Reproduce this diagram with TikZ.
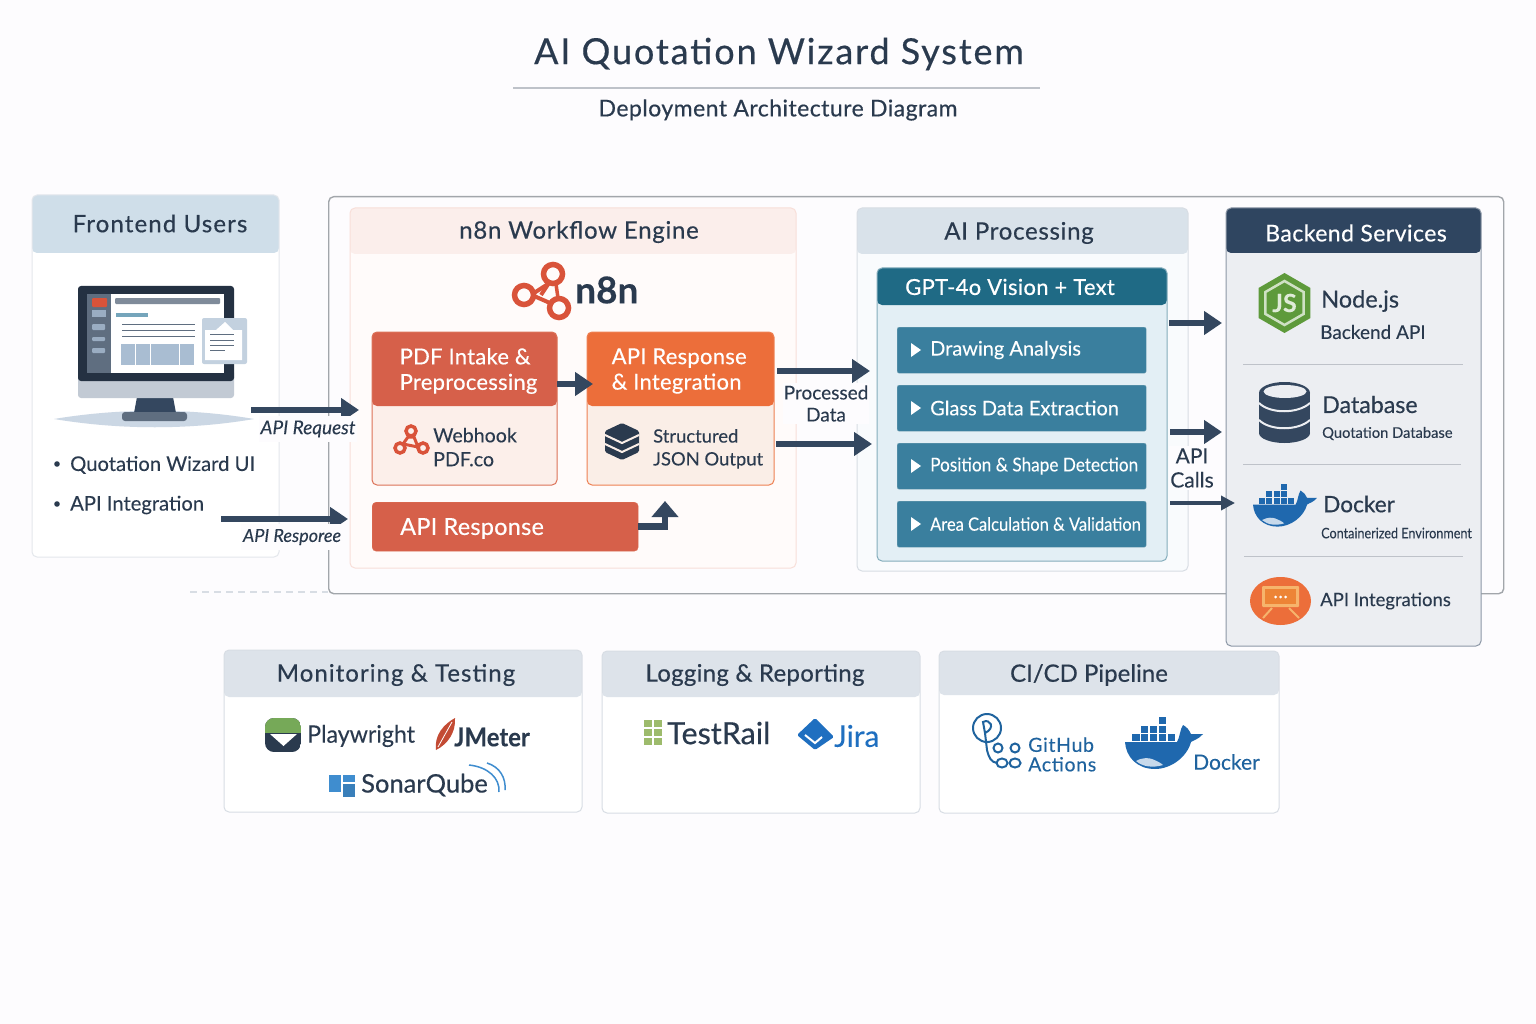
\documentclass[tikz,border=0pt]{standalone}
\usepackage{fontspec}
\setmainfont{Lato}[FakeBold=0.1]
\newcommand{\medweight}{\addfontfeature{FakeBold=0.45}}
\usetikzlibrary{positioning, shapes.geometric, arrows.meta}

\definecolor{bgcol}{HTML}{FDFCFE}
\definecolor{ink}{HTML}{2A3A4E}
\definecolor{navy}{HTML}{34475F}
\definecolor{rust}{HTML}{D6604A}
\definecolor{rustedge}{HTML}{DC7258}
\definecolor{rustpale}{HTML}{FCEFEA}
\definecolor{flame}{HTML}{EC6E3A}
\definecolor{flameedge}{HTML}{EE8052}
\definecolor{flamepale}{HTML}{FAEEE7}
\definecolor{teal}{HTML}{1F6A85}
\definecolor{tealbar}{HTML}{3A7F9E}
\definecolor{tealpale}{HTML}{E3EFF5}
\definecolor{whaleblue}{HTML}{1F68AE}
\definecolor{hdrgrey}{HTML}{DDE3EA}
\definecolor{edgegrey}{HTML}{D8DDE4}
\definecolor{skyhdr}{HTML}{CFDEE9}
\definecolor{peachhdr}{HTML}{FBEEEB}
\definecolor{peachedge}{HTML}{F8DFD9}
\definecolor{peachbody}{HTML}{FFFBFA}
\definecolor{aihdr}{HTML}{D9E2EA}
\definecolor{aibody}{HTML}{F9FBFD}
\definecolor{backhdr}{HTML}{2F4560}
\definecolor{backbody}{HTML}{ECEEF2}
\definecolor{backedge}{HTML}{8C97A6}
\definecolor{slate}{HTML}{5F6E80}
\definecolor{screenblue}{HTML}{A9BDD2}
\definecolor{leafgreen}{HTML}{5E9A3B}
\definecolor{sprout}{HTML}{9DBB6C}
\definecolor{jirablue}{HTML}{1F6FC0}
\definecolor{sonarblue}{HTML}{3F8DCF}
\definecolor{ghblue}{HTML}{1F639E}
\definecolor{firered}{HTML}{D9533A}
\definecolor{chatframe}{HTML}{F6B46C}
\definecolor{chatfill}{HTML}{ED8436}

\tikzset{
    whale/.pic={
        \fill[whaleblue] (0,25) -- (52,25) .. controls (55,20) and (55,12) .. (58,8)
            .. controls (62,10) and (64,13) .. (66,17) -- (78,17)
            .. controls (74,22) and (69,23) .. (66,25)
            .. controls (62,40) and (46,52) .. (30,52)
            .. controls (12,52) and (1,40) .. (0,25) -- cycle;
        \fill[white!75!whaleblue] (11,44) .. controls (18,40) and (24,41) .. (27,42)
            .. controls (32,44) and (36,46) .. (38,48)
            .. controls (28,51) and (18,50) .. (11,44) -- cycle;
        \foreach \cx in {7.3,16,25,34,43}
            \fill[whaleblue] (\cx,17) rectangle ++(7.4,7);
        \foreach \cx in {16,25,34}
            \fill[whaleblue] (\cx,8.5) rectangle ++(7.4,7);
        \fill[whaleblue] (34,0) rectangle ++(7.4,7);
    }
}

\begin{document}
\begin{tikzpicture}[x=1pt, y=-1pt,
    panel/.style n args={3}{rectangle, draw=#2, line width=1pt, rounded corners=5pt, inner sep=0pt, outer sep=0pt,
        anchor=north west, path picture={\fill[#1] (path picture bounding box.north west) rectangle ([yshift=-#3]path picture bounding box.north east);}},
    heading/.style={text=ink, font=\fontsize{24}{28}\selectfont\medweight\addfontfeature{LetterSpace=#1}},
    boxtext/.style={text=white, anchor=west, align=left, inner sep=0pt, font=\fontsize{22}{25.5}\selectfont\medweight\addfontfeature{LetterSpace=1.2}},
    itemtext/.style={text=ink, anchor=west, align=left, inner sep=0pt, font=\fontsize{#1}{#1}\selectfont},
    titletext/.style={text=ink, anchor=west, align=left, inner sep=0pt, font=\fontsize{#1}{#1}\selectfont\medweight},
    logotext/.style={anchor=west, align=left, inner sep=0pt, font=\fontsize{#1}{#1}\selectfont},
    itembar/.style={rectangle, fill=tealbar, draw=teal!60, rounded corners=2pt, anchor=north west, minimum width=249pt, minimum height=46pt, inner sep=0pt},
    itemlabel/.style={text=white, anchor=west, inner sep=0pt},
    flow/.style={draw=navy, line width=6.5pt, -{Triangle[length=18pt, width=23pt]}},
    arrowlabel/.style={text=ink, fill=bgcol, inner xsep=2pt, inner ysep=5pt, font=\fontsize{#1}{21}\selectfont\itshape},
    sidelabel/.style={text=ink, fill=bgcol, align=center, inner xsep=1pt, inner ysep=2pt},
    sep/.style={draw=black!12!edgegrey, line width=1pt}
]

% Canvas
\fill[bgcol] (0,0) rectangle (1536,1024);
\useasboundingbox (0,0) rectangle (1536,1024);

% Title
\node[text=ink, font=\fontsize{36}{40}\selectfont\medweight\addfontfeature{LetterSpace=5.2}] (Title) at (779,54) {AI Quotation Wizard System};
\coordinate (ruleL) at (513,88);
\coordinate (ruleR) at (1040,88);
\draw[draw=black!12!edgegrey, line width=1.2pt] (ruleL) -- (ruleR);
\node[text=ink, font=\fontsize{23}{26}\selectfont\medweight\addfontfeature{LetterSpace=2}] (Subtitle) at (778,110) {Deployment Architecture Diagram};

% Frames and panels
\coordinate (dashL) at (190,592);
\coordinate (dashR) at (328,592);
\draw[draw=edgegrey, line width=1.2pt, dash pattern=on 7pt off 5pt] (dashL) -- (dashR);
\node[rectangle, draw=black!25!edgegrey, line width=1.4pt, fill=bgcol, rounded corners=5pt, anchor=north west, minimum width=1175pt, minimum height=397pt, inner sep=0pt] (Frame) at (328,196) {};
\node[panel={skyhdr}{edgegrey!70}{58pt}, fill=white, minimum width=247pt, minimum height=362pt] (Frontend) at (32,195) {};
\node[panel={peachhdr}{peachedge}{46pt}, fill=peachbody, minimum width=446pt, minimum height=360pt] (Engine) at (350,208) {};
\node[panel={aihdr}{edgegrey}{46pt}, fill=aibody, minimum width=331pt, minimum height=363pt] (AI) at (857,208) {};
\node[panel={backhdr}{backedge}{45pt}, fill=backbody, minimum width=255pt, minimum height=438pt] (Backend) at (1226,208) {};
\node[panel={teal}{teal!55}{37pt}, fill=tealpale, minimum width=290pt, minimum height=293pt] (GPT) at (877,268) {};
\node[panel={hdrgrey}{edgegrey}{47pt}, fill=white, minimum width=358pt, minimum height=162pt] (Monitoring) at (224,650) {};
\node[panel={hdrgrey}{edgegrey}{46pt}, fill=white, minimum width=318pt, minimum height=162pt] (Logging) at (602,651) {};
\node[panel={hdrgrey}{edgegrey}{44pt}, fill=white, minimum width=340pt, minimum height=162pt] (CICD) at (939,651) {};

% Panel titles
\node[heading=4.75] (FrontendTitle) at (160,223.5) {Frontend Users};
\node[heading=3] (EngineTitle) at (579,232) {n8n Workflow Engine};
\node[heading=3] (AITitle) at (1019,233) {AI Processing};
\node[heading=2, text=white, font=\fontsize{23}{26}\selectfont\medweight\addfontfeature{LetterSpace=2}] (BackendTitle) at (1356,233) {Backend Services};
\node[heading=4.4] (MonitoringTitle) at (396,675) {Monitoring \& Testing};
\node[heading=1.3] (LoggingTitle) at (755,675) {Logging \& Reporting};
\node[heading=0.1] (CICDTitle) at (1089,675) {CI/CD Pipeline};

% Monitor
\fill[screenblue!60!white] (54,419) .. controls (120,408) and (190,408) .. (254,419) .. controls (190,430) and (120,430) .. (54,419) -- cycle;
\fill[navy] (137,397) -- (173,397) -- (176,413) -- (134,413) -- cycle;
\fill[slate, rounded corners=3pt] (122,412) rectangle (187,421);
\fill[screenblue!50!slate!50!white, rounded corners=3pt] (78,370) rectangle (234,398);
\fill[ink!85!black, rounded corners=3pt] (78,286) -- (234,286) -- (234,381) -- (78,381) -- cycle;
\fill[slate] (87,294) rectangle (111,373);
\fill[white] (111,294) rectangle (224,373);
\fill[firered, rounded corners=1pt] (92,298) rectangle (107,307);
\fill[screenblue!80!slate] (92,310) rectangle (106,317);
\foreach \by/\bh in {324/6, 337/4, 348/5}
    \fill[screenblue!80!slate, rounded corners=1pt] (92,\by) rectangle ++(13,\bh);
\fill[slate!80!white, rounded corners=1pt] (115,298) rectangle (220,304);
\fill[tealbar!70!white] (116,313) rectangle (148,317);
\foreach \ly in {324,330,336}
    \draw[slate, line width=1pt] (122,\ly) -- (195,\ly);
\foreach \cx in {121,136,151,165,180}
    \fill[screenblue] (\cx,344) rectangle ++(14,21);
\fill[screenblue!70!white, rounded corners=2pt] (202,318) rectangle (247,364);
\fill[white] (205,330) -- (216,330) -- (225,322) -- (233,330) -- (242,330) -- (242,360) -- (205,360) -- cycle;
\foreach \ly/\lx in {334/234, 340/234, 345/234, 350/225}
    \draw[slate, line width=1pt] (210,\ly) -- (\lx,\ly);

% Frontend list
\fill[ink] (57,464) circle (2.8);
\fill[ink] (57,504) circle (2.8);
\node[itemtext=20.2] (ItemUI) at (70,465) {Quotation Wizard UI};
\node[itemtext=20.2] (ItemAPI) at (70,505) {API Integration};

% n8n logo
\foreach \cx/\cy in {553/274, 524/295, 559/308}
    \draw[firered, line width=5.5pt] (\cx,\cy) circle (9.5);
\draw[firered, line width=4pt] (548,284) -- (534,293);
\draw[firered, line width=4pt] (534,296) -- (550,303);
\draw[firered, line width=4pt] (549,283) -- (541,295);
\draw[firered, line width=3.5pt] (556,284) -- (558,298);
\node[text=ink, font=\fontsize{37}{40}\selectfont\bfseries, anchor=west, inner sep=0pt] (EngineLogo) at (575,290) {n8n};

% Workflow boxes
\node[panel={rust}{rustedge}{74pt}, fill=rustpale, minimum width=185pt, minimum height=153pt] (Intake) at (372,332) {};
\node[panel={flame}{flameedge}{74pt}, fill=flamepale, minimum width=187pt, minimum height=153pt] (Response) at (587,332) {};
\node[boxtext] (IntakeLabel) at (399.5,371) {PDF Intake \&\\Preprocessing};
\node[boxtext] (ResponseLabel) at (611.5,371) {API Response\\\& Integration};
\foreach \cx/\cy in {411/431, 400/448, 423/448}
    \draw[firered, line width=3.5pt] (\cx,\cy) circle (5);
\draw[firered, line width=3pt] (408,437) -- (403,444) -- (418,447) -- (414,437) -- cycle;
\node[itemtext=19.6] (WebhookLabel) at (433,450) {\begin{tabular}{@{}l@{}}Webhook\\[4pt]PDF.co\end{tabular}};
\fill[ink, rounded corners=1.5pt] (605,431) -- (622,423) -- (639,431) -- (639,452) -- (622,460) -- (605,452) -- cycle;
\foreach \dy in {0,9}
    \draw[flamepale, line width=2pt] (605,435+\dy) -- (622,443+\dy) -- (639,435+\dy);
\node[itemtext=18.4] (StructuredLabel) at (653,450) {\begin{tabular}{@{}l@{}}Structured\\[4pt]JSON Output\end{tabular}};
\node[rectangle, fill=rust, draw=rustedge, rounded corners=4pt, anchor=north west, minimum width=266pt, minimum height=49pt, inner sep=0pt] (ResponseBar) at (372,502) {};
\node[boxtext, font=\fontsize{23.5}{26}\selectfont\medweight\addfontfeature{LetterSpace=1}] (ResponseBarLabel) at (400,528.5) {API Response};

% AI processing items
\node[text=white, font=\fontsize{22}{26}\selectfont\medweight\addfontfeature{LetterSpace=1.5}, anchor=west, inner sep=0pt] (GPTTitle) at (905,287) {GPT-4o Vision + Text};
\foreach \ny/\nt/\fs/\st in {327/Drawing Analysis/20/1, 385/Glass Data Extraction/20/1, 443/Position \& Shape Detection/19/.905, 501/Area Calculation \& Validation/18.4/.895}{
    \node[itembar] (Step\ny) at (897,\ny) {};
    \fill[white] (911,\ny+16) -- (921,\ny+23) -- (911,\ny+30) -- cycle;
    \node[itemlabel, font=\fontsize{\fs}{\fs}\selectfont\addfontfeature{FakeStretch=\st}] (StepLabel\ny) at (930,\ny+23) {\nt};
}

% Backend services
\node[regular polygon, regular polygon sides=6, shape border rotate=30, fill=leafgreen, minimum size=60pt, inner sep=0pt] (NodeHex) at (1284.5,303) {};
\node[regular polygon, regular polygon sides=6, shape border rotate=30, draw=leafgreen!30!white, line width=2.5pt, text=leafgreen!20!white, font=\fontsize{25}{25}\selectfont\bfseries, minimum size=44pt, inner sep=0pt] (NodeLogo) at (1284.5,303) {JS};
\node[titletext=23.5] (NodeLabel) at (1321,301) {Node.js};
\node[itemtext=19] (NodeSub) at (1320,332) {Backend API};

\coordinate (sepA) at (1243,364);
\coordinate (sepB) at (1463,364);
\draw[sep] (sepA) -- (sepB);
\coordinate (sepC) at (1243,464);
\coordinate (sepD) at (1461,464);
\draw[sep] (sepC) -- (sepD);
\coordinate (sepE) at (1244,556);
\coordinate (sepF) at (1463,556);
\draw[sep] (sepE) -- (sepF);

\fill[navy] (1259,393) rectangle (1310,433);
\fill[navy] (1284.5,393) ellipse (25.5 and 11);
\fill[navy] (1284.5,433) ellipse (25.5 and 10);
\fill[backbody] (1285,391.5) ellipse (21.5 and 6.5);
\foreach \dy in {0,17}
    \draw[backbody, line width=2pt] (1259,403+\dy) .. controls (1270,414+\dy) and (1298,414+\dy) .. (1310,403+\dy);
\node[titletext=23.2] (DatabaseLabel) at (1322,404.5) {Database};
\node[itemtext=14.7] (DatabaseSub) at (1322,433.5) {Quotation Database};

\pic[scale=.82] at (1253,484) {whale};
\node[titletext=22.6] (DockerLabel) at (1323,504) {Docker};
\node[itemtext=14.5, font=\fontsize{14.5}{14.5}\selectfont\addfontfeature{FakeStretch=.87}] (DockerSub) at (1321,533) {Containerized Environment};

\fill[flame] (1280.5,601) ellipse (30.5 and 24);
\fill[chatframe, rounded corners=1pt] (1262,586) rectangle (1299,607);
\fill[chatfill] (1265,589) rectangle (1296,604);
\draw[chatframe, line width=2pt] (1272,608) -- (1263,618);
\draw[chatframe, line width=2pt] (1289,608) -- (1299,618);
\foreach \dx in {-5,0,5}
    \fill[white] (1280.5+\dx,597) circle (1.5);
\node[itemtext=18.5] (IntegrationsLabel) at (1320,601) {API Integrations};

% Monitoring logos
\begin{scope}
    \clip[rounded corners=9pt] (265,718) rectangle (301,752);
    \fill[ink] (265,718) rectangle (301,752);
    \fill[leafgreen!85!white] (265,718) rectangle (301,733);
    \fill[white] (270,734) -- (297,734) -- (283.5,746) -- cycle;
\end{scope}
\node[logotext=24, text=ink, font=\fontsize{24}{24}\selectfont\addfontfeature{FakeStretch=.965}] (PlaywrightLabel) at (307,736) {Playwright};
\fill[firered!90!black] (436,750) .. controls (434,735) and (444,724) .. (455,718) .. controls (456,732) and (448,744) .. (436,750) -- cycle;
\draw[white, line width=.8pt] (438,747) -- (452,722);
\node[logotext=26, text=ink, font=\fontsize{26}{26}\selectfont\bfseries\addfontfeature{FakeStretch=.92}] (JMeterLabel) at (454,737) {JMeter};
\fill[sonarblue] (329,775) rectangle (341,792);
\fill[sonarblue] (343,775) rectangle (355,782);
\fill[sonarblue!90!black] (343,784) rectangle (355,797);
\node[logotext=25.5, text=ink, font=\fontsize{25.5}{25.5}\selectfont\medweight] (SonarLabel) at (361,785) {SonarQube};
\draw[sonarblue, line width=1.5pt] (469,765) .. controls (488,767) and (500,778) .. (499,792);
\draw[sonarblue, line width=1.5pt] (487,763) .. controls (500,767) and (506,778) .. (505,790);

% Logging logos
\foreach \gx in {644,654}
    \foreach \gy in {720,729,738}
        \fill[sprout] (\gx,\gy) rectangle ++(8,7);
\node[logotext=30.5, text=ink, font=\fontsize{30.5}{30.5}\selectfont\medweight] (TestRailLabel) at (667,733) {TestRail};
\fill[jirablue, rounded corners=1.5pt] (815,718) -- (834,737) -- (815,750) -- (797,735) -- cycle;
\draw[white, line width=2pt] (805,735) -- (815,743) -- (822,737);
\node[logotext=30, text=jirablue] (JiraLabel) at (834,736) {Jira};

% CI/CD logos
\draw[ghblue, line width=2pt] (987,728) circle (14);
\draw[ghblue, line width=2pt] (985,733) -- (983,722) .. controls (990,718) and (996,728) .. (985,733) -- (987,750) .. controls (989,758) and (991,762) .. (997,763);
\foreach \cx/\cy/\rx in {998/748/4.5, 1015/748/4.5, 1002/763/5.5, 1015/763/5.5}
    \draw[ghblue, line width=2pt] (\cx,\cy) ellipse ({\rx} and 4.5);
\node[text=ghblue, font=\fontsize{19.5}{19.5}\selectfont\addfontfeature{LetterSpace=3.5}, anchor=west, align=left, inner sep=0pt] (ActionsLabel) at (1028,754.5) {GitHub\\Actions};
\pic at (1125,717) {whale};
\node[logotext=21, text=ghblue] (DockerCI) at (1193,762) {Docker};

% Connectors
\draw[flow] ([xshift=-28pt, yshift=-34pt]Frontend.east) -- ([xshift=9pt, yshift=-22pt]Engine.west);
\node[arrowlabel=19] (RequestLabel) at (308,429) {API Request};
\draw[flow] ([xshift=-58pt, yshift=-143pt]Frontend.east) -- ([xshift=-2pt, yshift=-131pt]Engine.west);
\node[arrowlabel=18] (ResponseArrowLabel) at (292,537) {API Resporee};
\draw[flow] ([yshift=24.5pt]Intake.east) -- ([xshift=6pt, yshift=24.5pt]Response.west);
\coordinate (barTip) at (665,501);
\draw[flow, -{Triangle[length=16pt, width=26pt]}] (ResponseBar.east) -| (barTip);
\node[sidelabel, font=\fontsize{19}{22}\selectfont] (ProcessedLabel) at (826,403.5) {Processed\\Data};
\draw[flow] ([xshift=-19pt, yshift=17pt]Engine.east) -- ([xshift=13pt, yshift=18.5pt]AI.west);
\draw[flow] ([xshift=-20pt, yshift=-56pt]Engine.east) -- ([xshift=15pt, yshift=-54.5pt]AI.west);
\draw[flow] ([xshift=2pt, yshift=91.5pt]GPT.east) -- ([xshift=-4pt, yshift=104pt]Backend.west);
\draw[flow] ([xshift=3pt, yshift=-17.5pt]GPT.east) -- ([xshift=-4pt, yshift=-5pt]Backend.west);
\node[sidelabel, font=\fontsize{21}{24}\selectfont] (CallsLabel) at (1192,468) {API\\Calls};
\draw[flow, line width=3.5pt, -{Triangle[length=14pt, width=14pt]}] ([xshift=3pt, yshift=-88.5pt]GPT.east) -- ([xshift=9pt, yshift=-76pt]Backend.west);

\end{tikzpicture}
\end{document}
